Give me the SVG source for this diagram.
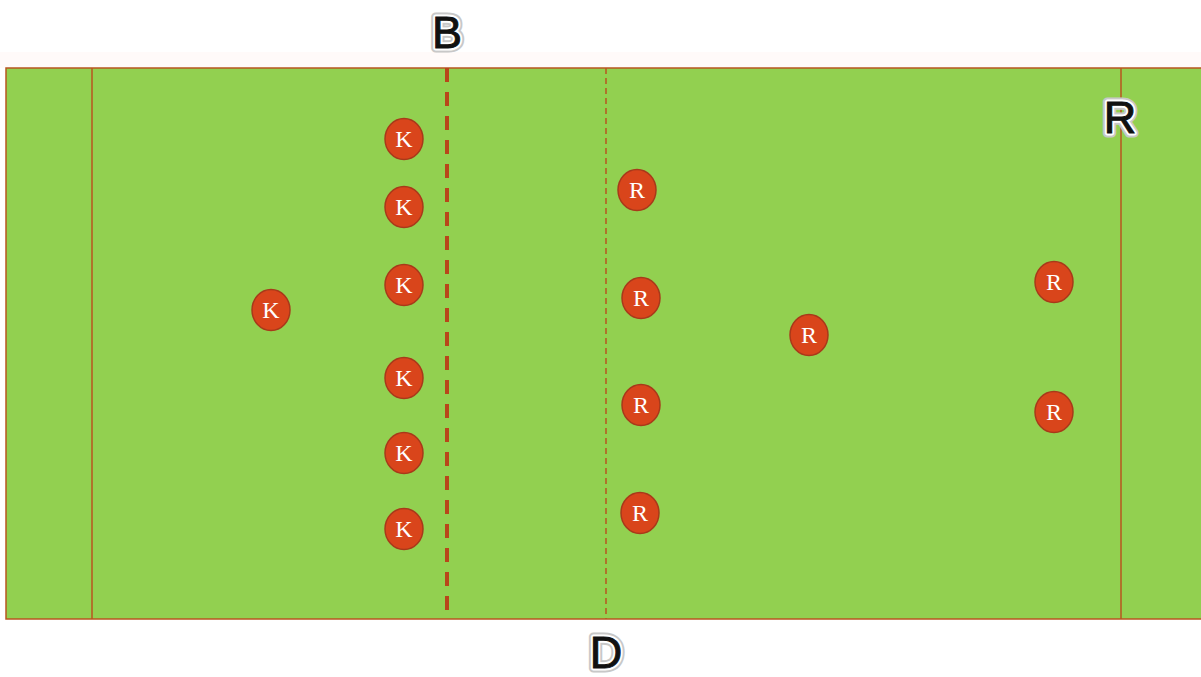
<svg xmlns="http://www.w3.org/2000/svg" width="1201" height="677" viewBox="0 0 1201 677">
<style>
.field{fill:#92d050;stroke:#b8561f;stroke-width:1.5}
.line{stroke:#b8561f;stroke-width:1.5;fill:none}
.dash-thick{stroke:#b8461a;stroke-width:4;stroke-dasharray:14 10;fill:none}
.dash-thin{stroke:#b8561f;stroke-width:1.5;stroke-dasharray:6 4;fill:none}
.player ellipse{fill:#d9451b;stroke:#a8391a;stroke-width:1.5}
.player text{font-family:"Liberation Serif","Times New Roman",serif;font-size:24px;fill:#ffffff;text-anchor:middle}
.lbl-halo{font-family:"Liberation Sans",Arial,sans-serif;font-size:45px;text-anchor:middle;fill:none;stroke:#c8c8c8;stroke-width:9;stroke-linejoin:round}
.lbl-white{font-family:"Liberation Sans",Arial,sans-serif;font-size:45px;text-anchor:middle;fill:none;stroke:#ffffff;stroke-width:5;stroke-linejoin:round}
.lbl{font-family:"Liberation Sans",Arial,sans-serif;font-size:45px;text-anchor:middle;fill:#111111;stroke:#111111;stroke-width:1}
</style>
<rect width="1201" height="677" fill="#ffffff"/>
<rect x="0" y="52" width="1201" height="16" fill="#fffaf9"/>
<g id="field">
<rect class="field" x="6" y="68" width="1200" height="551"/>
<line class="line" x1="92" y1="68" x2="92" y2="619"/>
<line class="dash-thick" x1="447" y1="68" x2="447" y2="619"/>
<line class="dash-thin" x1="606" y1="68" x2="606" y2="619"/>
<line class="line" x1="1121" y1="68" x2="1121" y2="619"/>
</g>
<g id="label-B"><text class="lbl-halo" x="447" y="48">B</text><text class="lbl-white" x="447" y="48">B</text><text class="lbl" x="447" y="48">B</text></g>
<g id="label-D"><text class="lbl-halo" x="606" y="668">D</text><text class="lbl-white" x="606" y="668">D</text><text class="lbl" x="606" y="668">D</text></g>
<g id="label-R"><text class="lbl-halo" x="1120" y="133">R</text><text class="lbl-white" x="1120" y="133">R</text><text class="lbl" x="1120" y="133">R</text></g>
<g id="k1" class="player"><ellipse cx="404" cy="139" rx="19" ry="20.5"/><text x="404" y="147">K</text></g>
<g id="k2" class="player"><ellipse cx="404" cy="207" rx="19" ry="20.5"/><text x="404" y="215">K</text></g>
<g id="k3" class="player"><ellipse cx="404" cy="285" rx="19" ry="20.5"/><text x="404" y="293">K</text></g>
<g id="k4" class="player"><ellipse cx="271" cy="310" rx="19" ry="20.5"/><text x="271" y="318">K</text></g>
<g id="k5" class="player"><ellipse cx="404" cy="378" rx="19" ry="20.5"/><text x="404" y="386">K</text></g>
<g id="k6" class="player"><ellipse cx="404" cy="453" rx="19" ry="20.5"/><text x="404" y="461">K</text></g>
<g id="k7" class="player"><ellipse cx="404" cy="529" rx="19" ry="20.5"/><text x="404" y="537">K</text></g>
<g id="r1" class="player"><ellipse cx="637" cy="190" rx="19" ry="20.5"/><text x="637" y="198">R</text></g>
<g id="r2" class="player"><ellipse cx="641" cy="298" rx="19" ry="20.5"/><text x="641" y="306">R</text></g>
<g id="r3" class="player"><ellipse cx="809" cy="335" rx="19" ry="20.5"/><text x="809" y="343">R</text></g>
<g id="r4" class="player"><ellipse cx="641" cy="405" rx="19" ry="20.5"/><text x="641" y="413">R</text></g>
<g id="r5" class="player"><ellipse cx="640" cy="513" rx="19" ry="20.5"/><text x="640" y="521">R</text></g>
<g id="r6" class="player"><ellipse cx="1054" cy="282" rx="19" ry="20.5"/><text x="1054" y="290">R</text></g>
<g id="r7" class="player"><ellipse cx="1054" cy="412" rx="19" ry="20.5"/><text x="1054" y="420">R</text></g>
</svg>
